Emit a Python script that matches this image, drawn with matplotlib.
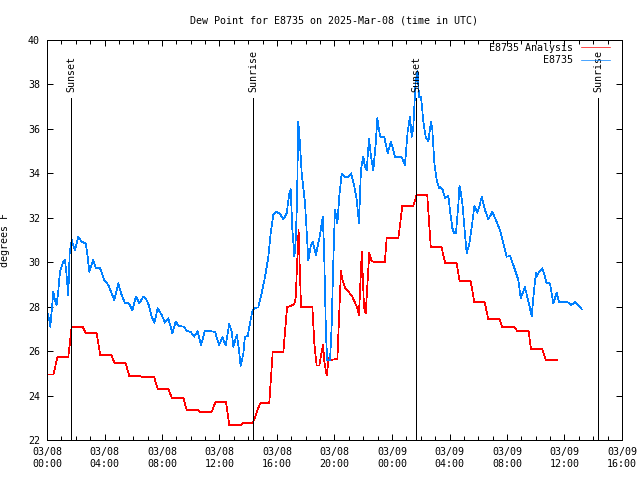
import matplotlib
matplotlib.use('Agg')
import matplotlib.pyplot as plt
import matplotlib.dates as mdates
import pandas as pd

start = pd.Timestamp('2025-03-08 00:00')
end = pd.Timestamp('2025-03-09 16:00')

# hours after 03/08 00:00 UTC, dew point in F
analysis_hours = [0.0, 0.45, 0.72, 1.48, 1.72, 2.48, 2.7, 3.46, 3.7, 4.48, 4.7, 5.47,
                  5.72, 6.5, 6.6, 7.46, 7.7, 8.44, 8.7, 9.5, 9.72, 10.5, 10.64, 11.46,
                  11.73, 12.45, 12.68, 13.5, 13.6, 14.33, 14.82, 15.46, 15.7, 16.44, 16.7, 17.2,
                  17.3, 17.5, 17.67, 18.46, 18.6, 18.76, 18.94, 19.2, 19.3, 19.46, 19.6, 19.7,
                  20.2, 20.45, 20.55, 20.73, 21.2, 21.55, 21.7, 21.9, 22.05, 22.17, 22.42, 22.55,
                  22.7, 23.5, 23.63, 24.44, 24.72, 25.48, 25.71, 26.45, 26.7, 27.45, 27.7, 28.5,
                  28.7, 29.47, 29.73, 30.45, 30.7, 31.5, 31.67, 32.55, 32.7, 33.5, 33.67, 34.45,
                  34.7, 35.46]
analysis_dewpt = [24.95, 24.95, 25.72, 25.72, 27.1, 27.1, 26.8, 26.8, 25.83, 25.83, 25.45, 25.45,
                  24.88, 24.88, 24.82, 24.82, 24.3, 24.3, 23.88, 23.88, 23.34, 23.34, 23.27, 23.27,
                  23.72, 23.72, 22.67, 22.67, 22.76, 22.78, 23.65, 23.65, 25.95, 25.95, 27.98, 28.1,
                  28.4, 31.45, 28.0, 28.0, 26.3, 25.35, 25.35, 26.3, 25.5, 24.9, 25.7, 25.6,
                  25.65, 29.62, 29.2, 28.85, 28.5, 28.0, 27.63, 30.47, 28.0, 27.7, 30.43, 30.1,
                  30.02, 30.02, 31.08, 31.08, 32.53, 32.53, 33.02, 33.02, 30.67, 30.67, 29.95, 29.95,
                  29.15, 29.15, 28.2, 28.2, 27.43, 27.43, 27.07, 27.07, 26.9, 26.9, 26.08, 26.08,
                  25.6, 25.6]

obs_hours = [0.0, 0.14, 0.23, 0.33, 0.44, 0.56, 0.67, 0.79, 0.9, 1.14, 1.25, 1.35,
             1.48, 1.58, 1.72, 1.85, 1.95, 2.18, 2.41, 2.69, 2.83, 2.94, 3.22, 3.39,
             3.69, 3.99, 4.27, 4.5, 4.68, 4.96, 5.19, 5.43, 5.7, 5.94, 6.19, 6.42,
             6.7, 6.93, 7.1, 7.28, 7.47, 7.7, 7.98, 8.21, 8.44, 8.72, 8.95, 9.18,
             9.53, 9.72, 10.0, 10.23, 10.48, 10.71, 10.99, 11.69, 11.97, 12.2, 12.43, 12.68,
             12.85, 12.96, 13.2, 13.36, 13.47, 13.66, 13.77, 13.96, 14.12, 14.28, 14.42, 14.7,
             14.93, 15.17, 15.4, 15.56, 15.74, 15.98, 16.21, 16.44, 16.67, 16.86, 16.95, 17.07,
             17.21, 17.3, 17.39, 17.48, 17.55, 17.72, 17.95, 18.18, 18.34, 18.48, 18.71, 18.99,
             19.18, 19.27, 19.41, 19.5, 19.69, 19.8, 19.92, 20.03, 20.2, 20.33, 20.5, 20.73,
             20.96, 21.15, 21.38, 21.55, 21.7, 21.84, 22.0, 22.12, 22.24, 22.4, 22.54, 22.7,
             22.87, 22.98, 23.17, 23.47, 23.7, 23.93, 24.21, 24.68, 24.9, 25.09, 25.25, 25.37,
             25.48, 25.64, 25.78, 25.88, 26.02, 26.18, 26.34, 26.53, 26.71, 26.8, 26.94, 27.11,
             27.27, 27.34, 27.53, 27.69, 27.92, 28.03, 28.2, 28.31, 28.45, 28.62, 28.69, 28.78,
             28.92, 29.08, 29.2, 29.38, 29.55, 29.73, 29.93, 30.07, 30.24, 30.47, 30.7, 30.98,
             31.28, 31.51, 31.74, 31.98, 32.21, 32.4, 32.63, 32.79, 32.95, 33.25, 33.41, 33.6,
             33.72, 33.88, 34.02, 34.07, 34.23, 34.46, 34.6, 34.76, 34.99, 35.11, 35.22, 35.46,
             35.62, 35.76, 36.22, 36.45, 36.73, 36.92, 37.2]
obs_dewpt = [27.77, 27.48, 27.1, 27.85, 28.67, 28.3, 28.07, 28.75, 29.57, 30.02, 30.1, 29.5,
             28.53, 30.47, 31.0, 30.7, 30.55, 31.15, 30.92, 30.85, 30.25, 29.57, 30.1, 29.73,
             29.73, 29.2, 28.97, 28.6, 28.3, 29.05, 28.53, 28.15, 28.15, 27.85, 28.45, 28.15,
             28.45, 28.3, 28.03, 27.55, 27.28, 27.93, 27.63, 27.28, 27.48, 26.8, 27.32, 27.13,
             27.1, 26.9, 26.87, 26.65, 26.9, 26.27, 26.92, 26.87, 26.27, 26.62, 26.27, 27.22,
             26.87, 26.2, 26.73, 26.05, 25.33, 25.9, 26.65, 26.68, 27.25, 27.77, 27.93, 27.97,
             28.6, 29.35, 30.25, 31.3, 32.13, 32.27, 32.17, 31.93, 32.2, 33.1, 33.28, 31.45,
             30.25, 31.0, 32.65, 36.33, 35.8, 34.0, 32.65, 30.1, 30.7, 30.92, 30.33, 31.23,
             32.05, 30.7, 26.65, 25.6, 25.6, 27.1, 30.1, 32.35, 31.75, 32.95, 34.0, 33.85,
             33.85, 34.0, 33.4, 32.8, 31.75, 34.15, 34.75, 34.3, 34.15, 35.57, 34.75, 34.15,
             35.35, 36.48, 35.65, 35.62, 34.9, 35.43, 34.75, 34.72, 34.38, 35.88, 36.55, 35.65,
             36.03, 38.13, 38.6, 37.45, 37.45, 36.33, 35.65, 35.43, 36.33, 36.03, 34.5, 33.7,
             33.33, 33.4, 33.25, 32.88, 32.98, 32.35, 31.53, 31.33, 31.3, 32.65, 33.43, 33.18,
             32.5, 31.23, 30.4, 30.85, 31.6, 32.53, 32.23, 32.5, 32.95, 32.35, 31.93, 32.27,
             31.82, 31.45, 30.85, 30.25, 30.28, 29.95, 29.5, 29.2, 28.38, 28.87, 28.45, 27.93,
             27.58, 28.75, 29.53, 29.35, 29.57, 29.73, 29.43, 29.05, 29.05, 28.6, 28.15, 28.63,
             28.22, 28.2, 28.2, 28.07, 28.2, 28.1, 27.88]

sun_labels = ['Sunset', 'Sunrise', 'Sunset', 'Sunrise']
sun_times = ['2025-03-08 01:41', '2025-03-08 14:21', '2025-03-09 01:42', '2025-03-09 14:20']
y_ticks = list(range(22, 41, 2))

plt.rcParams['font.family'] = ['DejaVu Sans Mono']
fs = 7.2
lw = 0.72  # one pixel at 100 dpi

fig = plt.figure(figsize=(6.4, 4.8), dpi=100)
ax = fig.add_axes([47 / 640, 40 / 480, 575 / 640, 400 / 480])

t_an = start + pd.to_timedelta(analysis_hours, unit='h')
t_obs = start + pd.to_timedelta(obs_hours, unit='h')

ax.plot(t_an, analysis_dewpt, color='#ff0000', lw=0.5, antialiased=False, label='E8735 Analysis')
ax.plot(t_obs, obs_dewpt, color='#0080ff', lw=0.5, antialiased=False, label='E8735')

for name, when in zip(sun_labels, sun_times):
    t = pd.Timestamp(when)
    ax.vlines(t, 22, 37.4, color='black', lw=lw, antialiased=False)
    ax.text(t, 37.65, name, rotation=90, ha='center', va='bottom', fontsize=fs)

ax.set_xlim(start, end)
ax.set_ylim(22, 40)
ax.set_yticks(y_ticks)
ax.xaxis.set_major_locator(mdates.HourLocator(byhour=range(0, 24, 4)))
ax.xaxis.set_minor_locator(mdates.HourLocator())
ax.xaxis.set_major_formatter(mdates.DateFormatter('%m/%d\n%H:%M'))

ax.tick_params(which='major', direction='in', top=True, right=True, length=4.5, width=lw,
               labelsize=fs, pad=5)
ax.tick_params(which='minor', direction='in', top=True, right=True, length=3, width=lw)
for s in ax.spines.values():
    s.set_linewidth(lw)

ax.set_title('Dew Point for E8735 on 2025-Mar-08 (time in UTC)', fontsize=fs, pad=12)
ax.set_ylabel('degrees F', fontsize=fs)
ax.yaxis.set_label_coords(-0.064, 0.5)

ax.legend(loc='upper right', bbox_to_anchor=(1 - 12 / 575, 1 - 3 / 400), frameon=False,
          markerfirst=False, handlelength=2.9, handletextpad=0.8, labelspacing=0.25,
          borderpad=0, borderaxespad=0, fontsize=fs)

fig.savefig('out.png', dpi=100)
